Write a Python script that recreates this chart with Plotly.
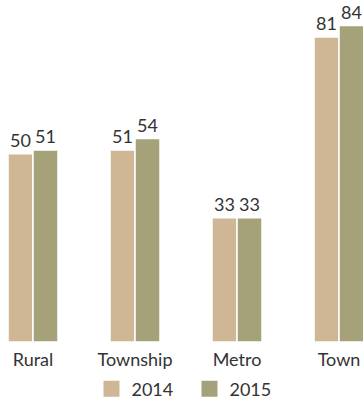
import plotly.graph_objects as go

categories = ["Rural", "Township", "Metro", "Town"]
series_names = ["2014", "2015"]
values_2014 = [50, 51, 33, 81]
values_2015 = [51, 54, 33, 84]
colors = ["#CFB795", "#A5A27A"]

fig = go.Figure()
for name, vals, col in zip(series_names, [values_2014, values_2015], colors):
    fig.add_trace(go.Bar(
        x=categories, y=vals, name=name, showlegend=False,
        marker=dict(color=col, line=dict(color="#FFFFFF", width=1.5)),
        text=[str(v) for v in vals], textposition="outside", cliponaxis=False,
        textfont=dict(size=18, color="#333333"),
    ))
    fig.add_trace(go.Scatter(
        x=[None], y=[None], mode="markers", name=name, showlegend=True,
        marker=dict(symbol="square", size=16, color=col, line=dict(width=0)),
    ))

fig.update_layout(
    width=363, height=399,
    margin=dict(l=0, r=0, t=0, b=57),
    paper_bgcolor="white", plot_bgcolor="white",
    barmode="group", bargap=0.51, bargroupgap=0,
    font=dict(family="Lato, sans-serif", size=18, color="#333333"),
    xaxis=dict(range=[-0.3235, 3.235], showgrid=False, showline=False,
               ticks="", tickfont=dict(size=18, color="#333333"), fixedrange=True,
               ticklabelstandoff=5, automargin=False),
    yaxis=dict(range=[0, 90.8], visible=False, showgrid=False, zeroline=False),
    legend=dict(orientation="h", xref="container", yref="container",
                x=0.522, xanchor="center", y=0.025, yanchor="middle",
                font=dict(size=18, color="#333333"), entrywidth=53,
                bgcolor="rgba(0,0,0,0)"),
)

fig.write_html(
    "out.html",
    config={"displayModeBar": False},
    post_script="document.body.style.margin='0';document.body.style.overflow='hidden';",
)
